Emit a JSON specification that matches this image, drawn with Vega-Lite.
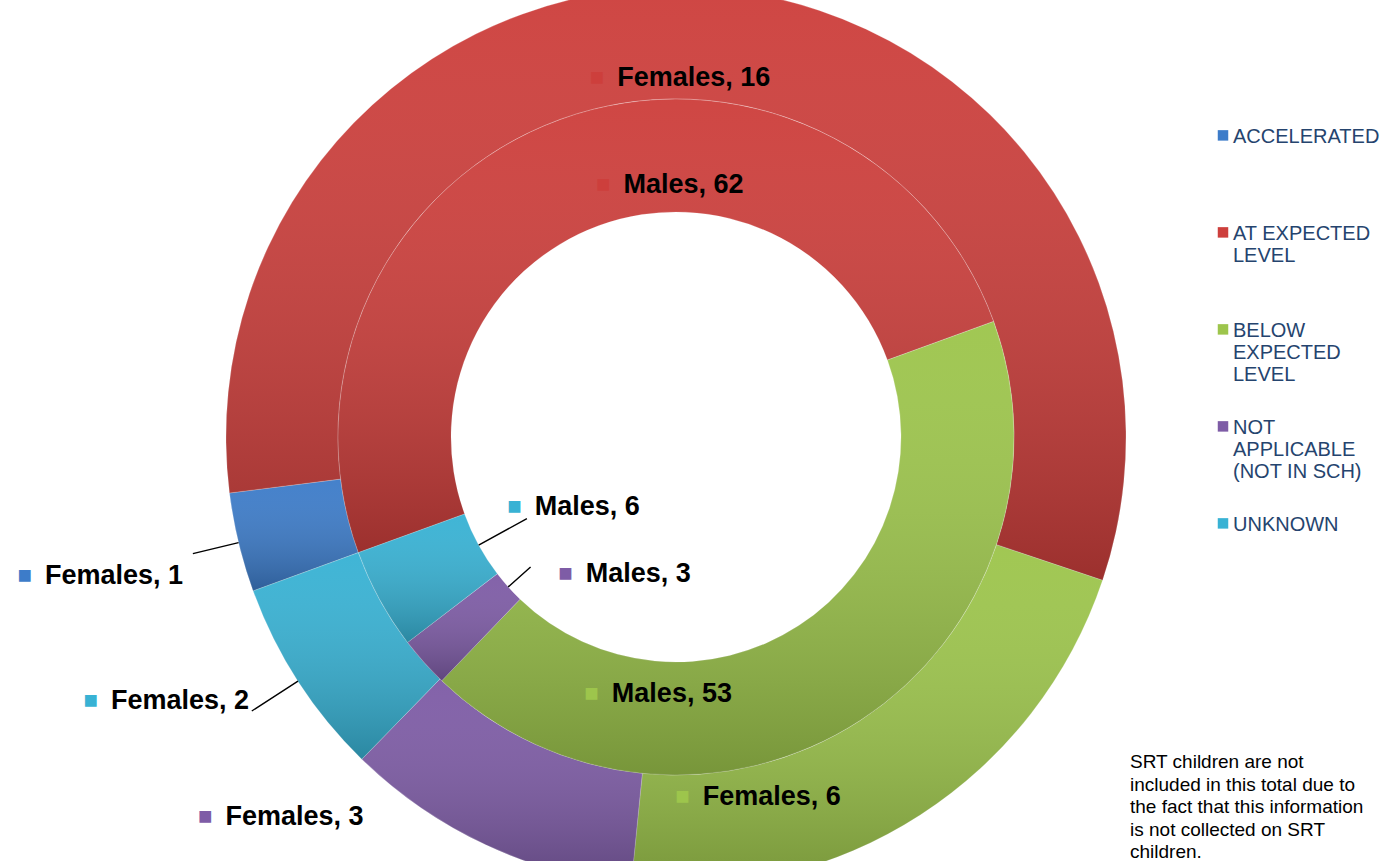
{
  "$schema": "https://vega.github.io/schema/vega-lite/v6.json",
  "width": 1352,
  "height": 874,
  "autosize": {"type": "none"},
  "padding": {"left": 0, "top": 0, "right": 39, "bottom": 0},
  "background": "#ffffff",
  "config": {"view": {"stroke": null}, "font": "Liberation Sans"},
  "title": {
    "text": ["SRT children are not", "included in this total due to", "the fact that this information", "is not collected on SRT", "children."],
    "orient": "top",
    "anchor": "start",
    "frame": "group",
    "align": "left",
    "baseline": "top",
    "offset": 0,
    "dx": 1130,
    "dy": 930,
    "font": "Liberation Sans",
    "fontSize": 19,
    "fontWeight": "normal",
    "color": "#000000",
    "lineHeight": 22.5
  },
  "data": {
    "values": [
      {"ring": "Females", "status": "ACCELERATED", "count": 1, "label": "Females, 1"},
      {"ring": "Females", "status": "AT EXPECTED LEVEL", "count": 16, "label": "Females, 16"},
      {"ring": "Females", "status": "BELOW EXPECTED LEVEL", "count": 6, "label": "Females, 6"},
      {"ring": "Females", "status": "NOT APPLICABLE (NOT IN SCH)", "count": 3, "label": "Females, 3"},
      {"ring": "Females", "status": "UNKNOWN", "count": 2, "label": "Females, 2"},
      {"ring": "Males", "status": "ACCELERATED", "count": 0, "label": "Males, 0"},
      {"ring": "Males", "status": "AT EXPECTED LEVEL", "count": 62, "label": "Males, 62"},
      {"ring": "Males", "status": "BELOW EXPECTED LEVEL", "count": 53, "label": "Males, 53"},
      {"ring": "Males", "status": "NOT APPLICABLE (NOT IN SCH)", "count": 3, "label": "Males, 3"},
      {"ring": "Males", "status": "UNKNOWN", "count": 6, "label": "Males, 6"}
    ]
  },
  "encoding": {
    "theta": {"field": "count", "type": "quantitative", "stack": "normalize", "scale": {"domain": [0, 1], "range": [4.36332, 10.64651]}},
    "order": {"field": "status", "type": "ordinal", "sort": "ascending"}
  },
  "layer": [
    {
      "transform": [{"filter": "datum.ring == 'Females'"}],
      "layer": [
        {
          "mark": {"type": "arc", "innerRadius": 338, "outerRadius": 450, "stroke": "#ffffff", "strokeWidth": 0.8, "strokeOpacity": 0.3},
          "encoding": {
            "color": {
              "field": "status", "type": "nominal",
              "scale": {"domain": ["ACCELERATED", "AT EXPECTED LEVEL", "BELOW EXPECTED LEVEL", "NOT APPLICABLE (NOT IN SCH)", "UNKNOWN"], "range": ["#3D7CC9", "#CD3F3C", "#9DC54C", "#7E5CA6", "#38B2D4"]},
              "legend": {
                "title": null, "orient": "none", "legendX": 1213, "legendY": 117,
                "symbolType": "M-1,0.6L1,0.6L1,2.6L-1,2.6Z", "symbolSize": 110, "symbolStrokeWidth": 0,
                "labelFont": "Liberation Sans", "labelFontSize": 20, "labelColor": "#25446E",
                "labelLineHeight": 23, "labelBaseline": "top", "labelOffset": 0, "labelLimit": 400,
                "rowPadding": 23, "gridAlign": "all", "padding": 0,
                "labelExpr": "datum.value == 'AT EXPECTED LEVEL' ? ['AT EXPECTED', 'LEVEL'] : datum.value == 'BELOW EXPECTED LEVEL' ? ['BELOW', 'EXPECTED', 'LEVEL'] : datum.value == 'NOT APPLICABLE (NOT IN SCH)' ? ['NOT', 'APPLICABLE', '(NOT IN SCH)'] : datum.label"
              }
            }
          }
        },
        {
          "mark": {"type": "arc", "innerRadius": 338, "outerRadius": 450, "color": {"gradient": "linear", "x1": 0, "y1": 0, "x2": 0, "y2": 1, "stops": [{"offset": 0, "color": "rgba(255,255,255,0.04)"}, {"offset": 1, "color": "rgba(0,0,0,0.24)"}]}},
          "encoding": {"detail": {"field": "status", "type": "nominal"}}
        }
      ]
    },
    {
      "transform": [{"filter": "datum.ring == 'Males'"}],
      "layer": [
        {
          "mark": {"type": "arc", "innerRadius": 225, "outerRadius": 338, "stroke": "#ffffff", "strokeWidth": 0.8, "strokeOpacity": 0.3},
          "encoding": {"color": {"field": "status", "type": "nominal"}}
        },
        {
          "mark": {"type": "arc", "innerRadius": 225, "outerRadius": 338, "color": {"gradient": "linear", "x1": 0, "y1": 0, "x2": 0, "y2": 1, "stops": [{"offset": 0, "color": "rgba(255,255,255,0.04)"}, {"offset": 1, "color": "rgba(0,0,0,0.24)"}]}},
          "encoding": {"detail": {"field": "status", "type": "nominal"}}
        }
      ]
    },
    {
      "transform": [{"filter": "datum.ring == 'Females'"}],
      "layer": [
        {"mark": {"type": "arc", "innerRadius": 450, "outerRadius": 497, "padAngle": 3, "filled": false, "stroke": "#000000", "strokeWidth": 1.4},
         "encoding": {"detail": {"field": "status", "type": "nominal"}, "opacity": {"condition": {"test": "datum.status == 'ACCELERATED'", "value": 1}, "value": 0}}},
        {"mark": {"type": "arc", "innerRadius": 450, "outerRadius": 505, "padAngle": 3, "filled": false, "stroke": "#000000", "strokeWidth": 1.4},
         "encoding": {"detail": {"field": "status", "type": "nominal"}, "opacity": {"condition": {"test": "datum.status == 'UNKNOWN'", "value": 1}, "value": 0}}},
        {"mark": {"type": "text", "radius": 394, "dx": -98, "dy": 33, "align": "left", "baseline": "middle", "font": "Liberation Sans", "fontSize": 27, "fontWeight": "bold", "color": "#000000"},
         "encoding": {"detail": {"field": "status", "type": "nominal"}, "text": {"condition": {"test": "datum.status == 'AT EXPECTED LEVEL'", "field": "label"}, "value": ""}}},
        {"mark": {"type": "text", "radius": 394, "dx": -111, "dy": 33, "align": "right", "baseline": "middle", "font": "Liberation Sans", "fontSize": 24},
         "encoding": {"color": {"field": "status", "type": "nominal"}, "text": {"condition": {"test": "datum.status == 'AT EXPECTED LEVEL'", "value": "■"}, "value": ""}}},
        {"mark": {"type": "text", "radius": 394, "dx": -187, "dy": 29, "align": "left", "baseline": "middle", "font": "Liberation Sans", "fontSize": 27, "fontWeight": "bold", "color": "#000000"},
         "encoding": {"detail": {"field": "status", "type": "nominal"}, "text": {"condition": {"test": "datum.status == 'BELOW EXPECTED LEVEL'", "field": "label"}, "value": ""}}},
        {"mark": {"type": "text", "radius": 394, "dx": -200, "dy": 29, "align": "right", "baseline": "middle", "font": "Liberation Sans", "fontSize": 24},
         "encoding": {"color": {"field": "status", "type": "nominal"}, "text": {"condition": {"test": "datum.status == 'BELOW EXPECTED LEVEL'", "value": "■"}, "value": ""}}},
        {"mark": {"type": "text", "radius": 394, "dx": -284, "dy": 23, "align": "left", "baseline": "middle", "font": "Liberation Sans", "fontSize": 27, "fontWeight": "bold", "color": "#000000"},
         "encoding": {"detail": {"field": "status", "type": "nominal"}, "text": {"condition": {"test": "datum.status == 'NOT APPLICABLE (NOT IN SCH)'", "field": "label"}, "value": ""}}},
        {"mark": {"type": "text", "radius": 394, "dx": -297, "dy": 23, "align": "right", "baseline": "middle", "font": "Liberation Sans", "fontSize": 24},
         "encoding": {"color": {"field": "status", "type": "nominal"}, "text": {"condition": {"test": "datum.status == 'NOT APPLICABLE (NOT IN SCH)'", "value": "■"}, "value": ""}}},
        {"mark": {"type": "text", "radius": 394, "dx": -248, "dy": 47, "align": "left", "baseline": "middle", "font": "Liberation Sans", "fontSize": 27, "fontWeight": "bold", "color": "#000000"},
         "encoding": {"detail": {"field": "status", "type": "nominal"}, "text": {"condition": {"test": "datum.status == 'ACCELERATED'", "field": "label"}, "value": ""}}},
        {"mark": {"type": "text", "radius": 394, "dx": -261, "dy": 47, "align": "right", "baseline": "middle", "font": "Liberation Sans", "fontSize": 24},
         "encoding": {"color": {"field": "status", "type": "nominal"}, "text": {"condition": {"test": "datum.status == 'ACCELERATED'", "value": "■"}, "value": ""}}},
        {"mark": {"type": "text", "radius": 394, "dx": -234, "dy": 50, "align": "left", "baseline": "middle", "font": "Liberation Sans", "fontSize": 27, "fontWeight": "bold", "color": "#000000"},
         "encoding": {"detail": {"field": "status", "type": "nominal"}, "text": {"condition": {"test": "datum.status == 'UNKNOWN'", "field": "label"}, "value": ""}}},
        {"mark": {"type": "text", "radius": 394, "dx": -247, "dy": 50, "align": "right", "baseline": "middle", "font": "Liberation Sans", "fontSize": 24},
         "encoding": {"color": {"field": "status", "type": "nominal"}, "text": {"condition": {"test": "datum.status == 'UNKNOWN'", "value": "■"}, "value": ""}}}
      ]
    },
    {
      "transform": [{"filter": "datum.ring == 'Males'"}],
      "layer": [
        {"mark": {"type": "arc", "innerRadius": 170, "outerRadius": 225, "padAngle": 3, "filled": false, "stroke": "#000000", "strokeWidth": 1.4},
         "encoding": {"detail": {"field": "status", "type": "nominal"}, "opacity": {"condition": {"test": "datum.status == 'UNKNOWN'", "value": 1}, "value": 0}}},
        {"mark": {"type": "arc", "innerRadius": 195, "outerRadius": 225, "padAngle": 3, "filled": false, "stroke": "#000000", "strokeWidth": 1.4},
         "encoding": {"detail": {"field": "status", "type": "nominal"}, "opacity": {"condition": {"test": "datum.status == 'NOT APPLICABLE (NOT IN SCH)'", "value": 1}, "value": 0}}},
        {"mark": {"type": "text", "radius": 282, "dx": 44, "dy": 13, "align": "left", "baseline": "middle", "font": "Liberation Sans", "fontSize": 27, "fontWeight": "bold", "color": "#000000"},
         "encoding": {"detail": {"field": "status", "type": "nominal"}, "text": {"condition": {"test": "datum.status == 'AT EXPECTED LEVEL'", "field": "label"}, "value": ""}}},
        {"mark": {"type": "text", "radius": 282, "dx": 31, "dy": 13, "align": "right", "baseline": "middle", "font": "Liberation Sans", "fontSize": 24},
         "encoding": {"color": {"field": "status", "type": "nominal"}, "text": {"condition": {"test": "datum.status == 'AT EXPECTED LEVEL'", "value": "■"}, "value": ""}}},
        {"mark": {"type": "text", "radius": 282, "dx": -218, "dy": 21, "align": "left", "baseline": "middle", "font": "Liberation Sans", "fontSize": 27, "fontWeight": "bold", "color": "#000000"},
         "encoding": {"detail": {"field": "status", "type": "nominal"}, "text": {"condition": {"test": "datum.status == 'BELOW EXPECTED LEVEL'", "field": "label"}, "value": ""}}},
        {"mark": {"type": "text", "radius": 282, "dx": -231, "dy": 21, "align": "right", "baseline": "middle", "font": "Liberation Sans", "fontSize": 24},
         "encoding": {"color": {"field": "status", "type": "nominal"}, "text": {"condition": {"test": "datum.status == 'BELOW EXPECTED LEVEL'", "value": "■"}, "value": ""}}},
        {"mark": {"type": "text", "radius": 282, "dx": 120, "dy": -51, "align": "left", "baseline": "middle", "font": "Liberation Sans", "fontSize": 27, "fontWeight": "bold", "color": "#000000"},
         "encoding": {"detail": {"field": "status", "type": "nominal"}, "text": {"condition": {"test": "datum.status == 'NOT APPLICABLE (NOT IN SCH)'", "field": "label"}, "value": ""}}},
        {"mark": {"type": "text", "radius": 282, "dx": 107, "dy": -51, "align": "right", "baseline": "middle", "font": "Liberation Sans", "fontSize": 24},
         "encoding": {"color": {"field": "status", "type": "nominal"}, "text": {"condition": {"test": "datum.status == 'NOT APPLICABLE (NOT IN SCH)'", "value": "■"}, "value": ""}}},
        {"mark": {"type": "text", "radius": 282, "dx": 106, "dy": -65, "align": "left", "baseline": "middle", "font": "Liberation Sans", "fontSize": 27, "fontWeight": "bold", "color": "#000000"},
         "encoding": {"detail": {"field": "status", "type": "nominal"}, "text": {"condition": {"test": "datum.status == 'UNKNOWN'", "field": "label"}, "value": ""}}},
        {"mark": {"type": "text", "radius": 282, "dx": 93, "dy": -65, "align": "right", "baseline": "middle", "font": "Liberation Sans", "fontSize": 24},
         "encoding": {"color": {"field": "status", "type": "nominal"}, "text": {"condition": {"test": "datum.status == 'UNKNOWN'", "value": "■"}, "value": ""}}}
      ]
    }
  ]
}
